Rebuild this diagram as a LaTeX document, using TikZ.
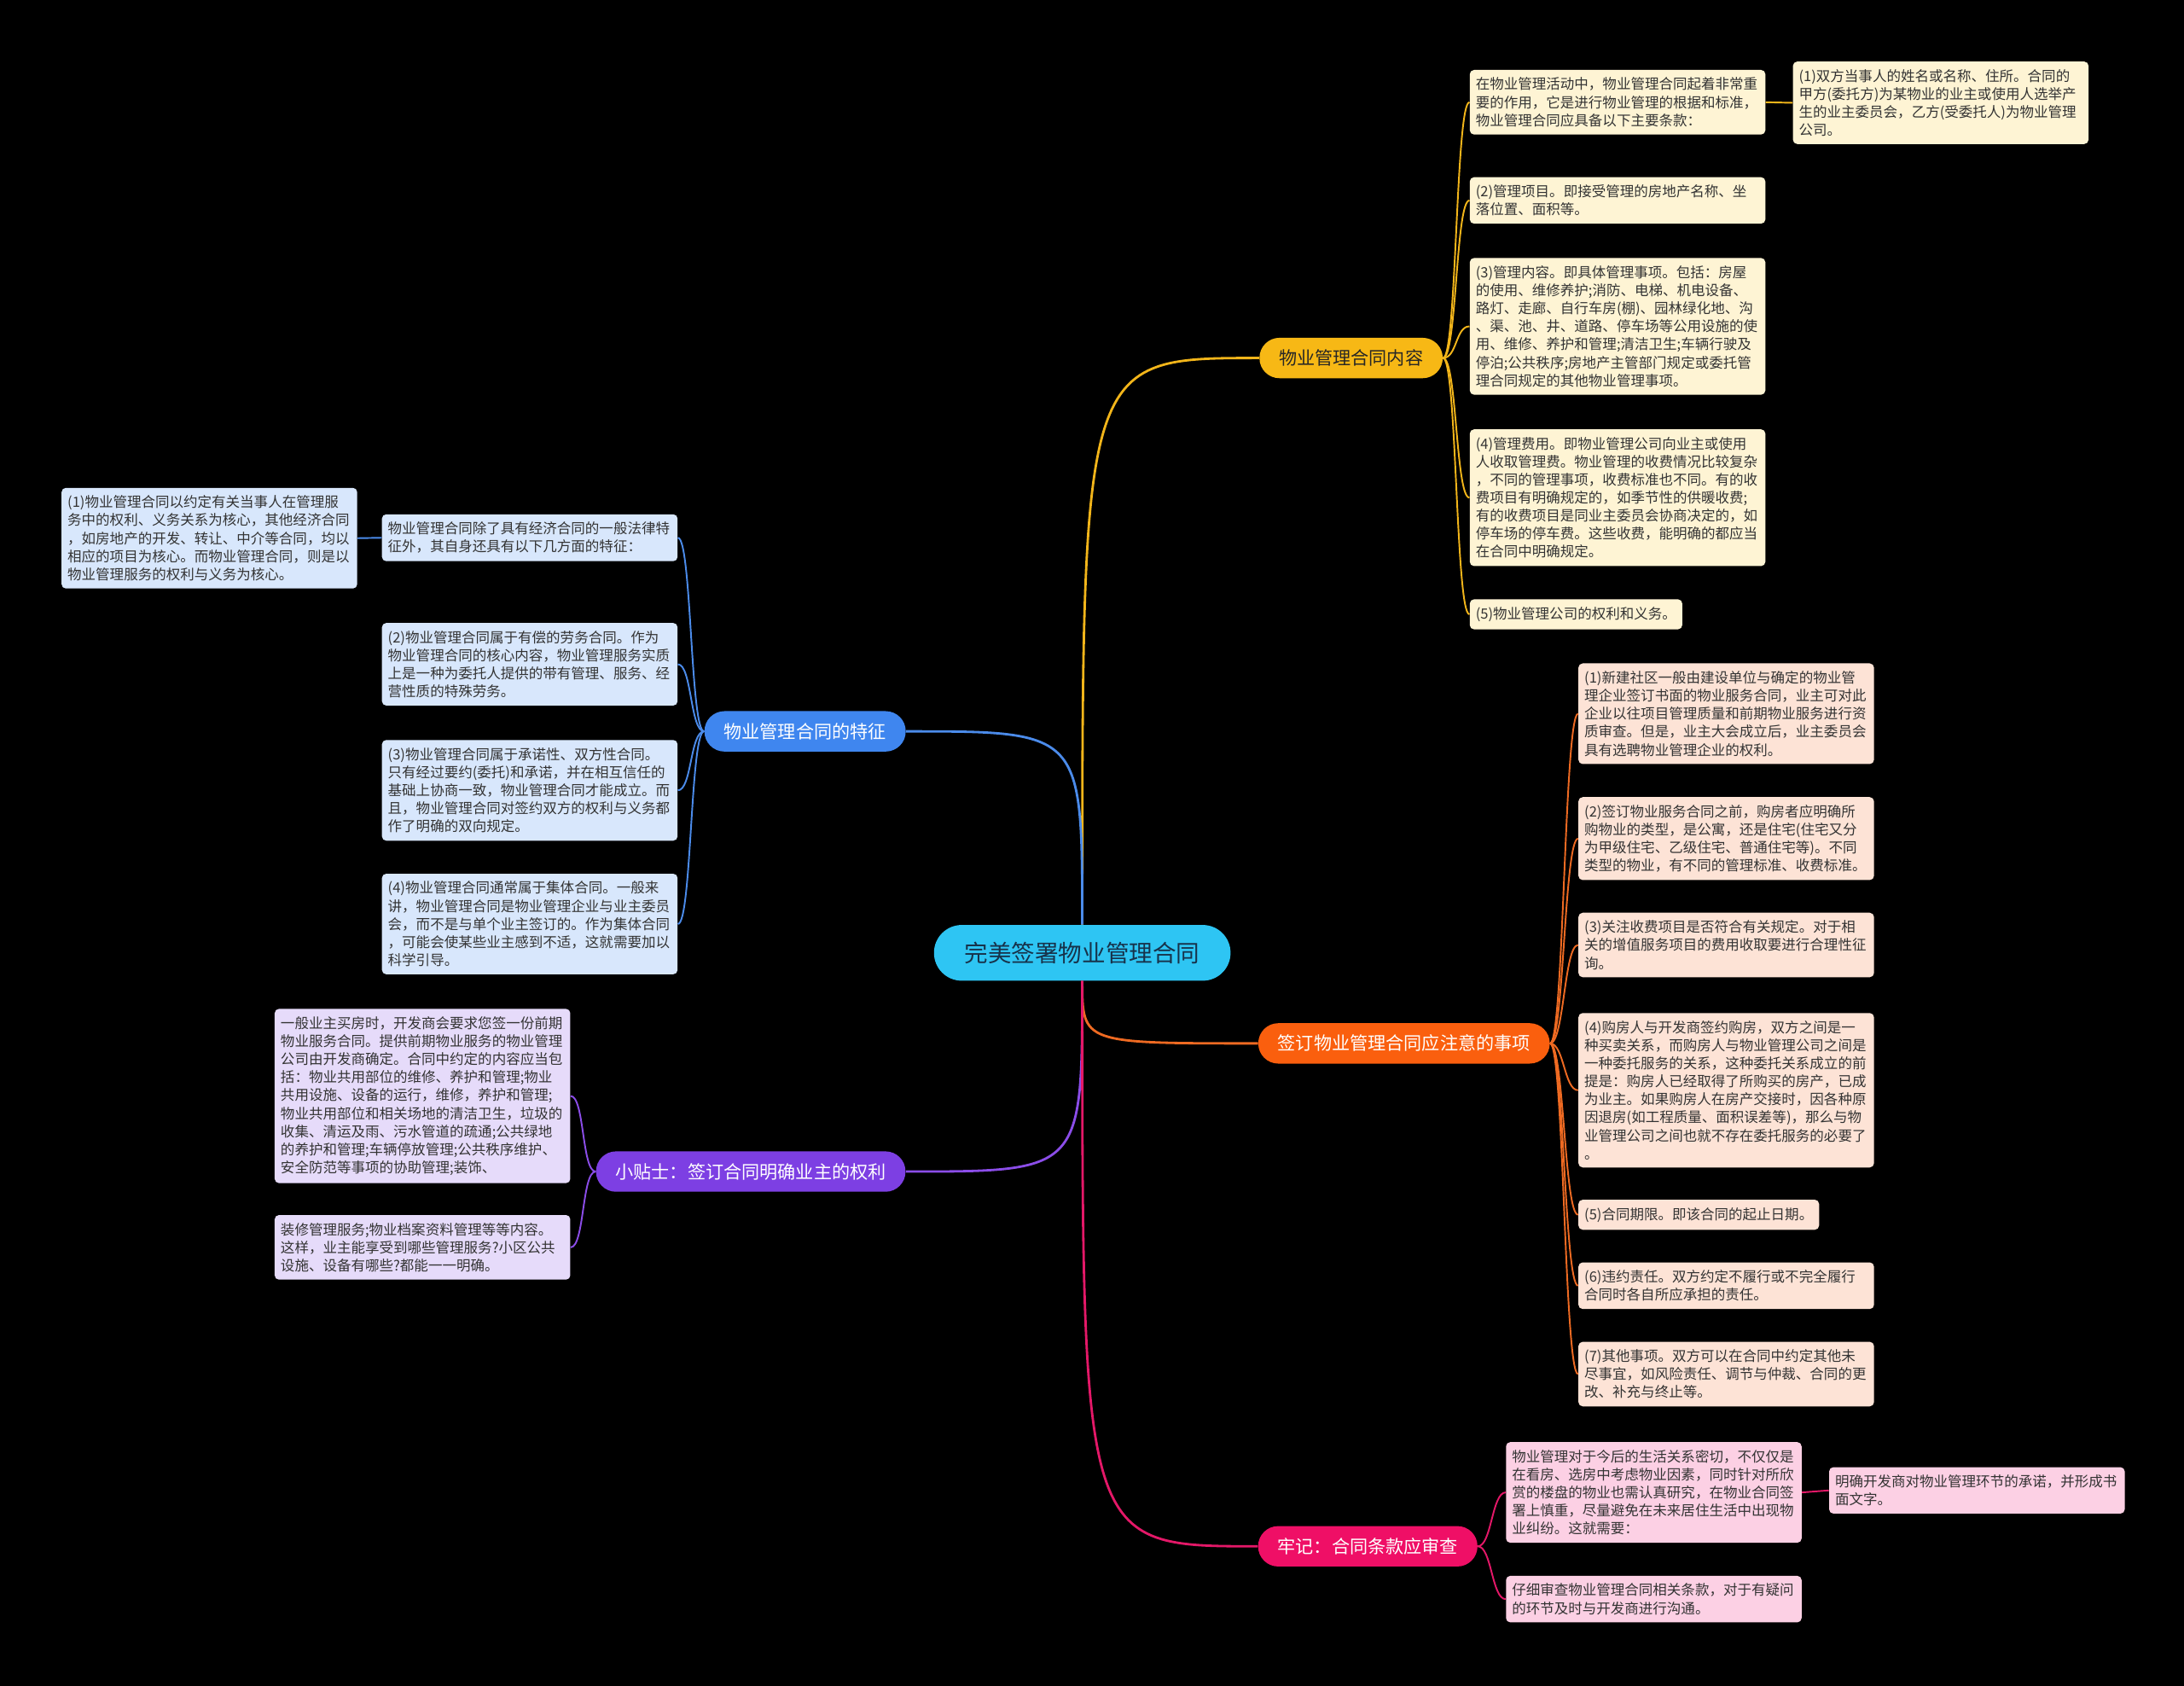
\documentclass[tikz,border=0pt]{standalone}
\usepackage{fontspec}
\setmainfont{Noto Sans CJK SC}
\usepackage{tikz}

\begin{document}
\begin{tikzpicture}[x=0.03265cm,y=-0.03265cm,
  leaf/.style={anchor=north west,rounded corners=0.1cm,inner xsep=0.14cm,inner ysep=0.18cm,text width=6.65cm,align=left,text=leafText,font=\fontsize{9.4}{12.03}\selectfont},
  leafone/.style={anchor=north west,rounded corners=0.1cm,inner xsep=0.14cm,inner ysep=0.18cm,text=leafText,font=\fontsize{9.4}{12.03}\selectfont},
  topic/.style={rounded corners=0.47cm,minimum height=0.947cm,inner xsep=0.457cm,inner ysep=0pt,text=white,font=\fontsize{12.03}{14}\selectfont},
  link/.style={line width=1.6pt},
  sublink/.style={line width=1.1pt}]
\definecolor{rootFill}{HTML}{2EC5F3}
\definecolor{rootText}{HTML}{17324A}
\definecolor{leafText}{HTML}{333333}
\definecolor{cttFill}{HTML}{F7B815}
\definecolor{cttLeaf}{HTML}{FEF4D4}
\definecolor{cttLine}{HTML}{F2B51A}
\definecolor{featFill}{HTML}{3F86EF}
\definecolor{featLeaf}{HTML}{D8E7FC}
\definecolor{featLine}{HTML}{4B8BEA}
\definecolor{tipFill}{HTML}{7D3FE3}
\definecolor{tipLeaf}{HTML}{E6DBFA}
\definecolor{tipLine}{HTML}{8B4DE8}
\definecolor{noteFill}{HTML}{FA5F0E}
\definecolor{noteLeaf}{HTML}{FDE3D6}
\definecolor{noteLine}{HTML}{EE6A22}
\definecolor{chkFill}{HTML}{EF0F66}
\definecolor{chkLeaf}{HTML}{FCD0E4}
\definecolor{chkLine}{HTML}{E41868}
\fill[black] (0,0) rectangle (1568,1210);
\useasboundingbox (0,0) rectangle (1568,1210);

% centre and main topics
\node[rounded corners=0.65cm,minimum height=1.306cm,inner xsep=0.717cm,fill=rootFill,text=rootText,font=\fontsize{15.7}{18}\selectfont] (root) at (777,684) {完美签署物业管理合同};
\node[topic,fill=cttFill,text=black!85] (ctt) at (970,257) {物业管理合同内容};
\node[topic,fill=featFill] (feat) at (578,525) {物业管理合同的特征};
\node[topic,fill=tipFill] (tip) at (539,841) {小贴士：签订合同明确业主的权利};
\node[topic,fill=noteFill] (note) at (1008,749) {签订物业管理合同应注意的事项};
\node[topic,fill=chkFill] (chk) at (982,1110) {牢记：合同条款应审查};

\draw[link,cttLine] (root.north) .. controls (root.north |- ctt.west) .. (ctt.west);
\draw[link,featLine] (root.north) .. controls (root.north |- feat.east) .. (feat.east);
\draw[link,tipLine] (root.south) .. controls (root.south |- tip.east) .. (tip.east);
\draw[link,noteLine] (root.south) .. controls (root.south |- note.west) .. (note.west);
\draw[link,chkLine] (root.south) .. controls (root.south |- chk.west) .. (chk.west);

% contents
\node[leaf,fill=cttLeaf] (l1) at (1055,50) {在物业管理活动中，物业管理合同起着非常重\\要的作用，它是进行物业管理的根据和标准，\\物业管理合同应具备以下主要条款：};
\node[leaf,fill=cttLeaf] (l1c) at (1287,44) {(1)双方当事人的姓名或名称、住所。合同的\\甲方(委托方)为某物业的业主或使用人选举产\\生的业主委员会，乙方(受委托人)为物业管理\\公司。};
\node[leaf,fill=cttLeaf] (l2) at (1055,127) {(2)管理项目。即接受管理的房地产名称、坐\\落位置、面积等。};
\node[leaf,fill=cttLeaf] (l3) at (1055,185) {(3)管理内容。即具体管理事项。包括：房屋\\的使用、维修养护;消防、电梯、机电设备、\\路灯、走廊、自行车房(棚)、园林绿化地、沟\\、渠、池、井、道路、停车场等公用设施的使\\用、维修、养护和管理;清洁卫生;车辆行驶及\\停泊;公共秩序;房地产主管部门规定或委托管\\理合同规定的其他物业管理事项。};
\node[leaf,fill=cttLeaf] (l4) at (1055,308) {(4)管理费用。即物业管理公司向业主或使用\\人收取管理费。物业管理的收费情况比较复杂\\，不同的管理事项，收费标准也不同。有的收\\费项目有明确规定的，如季节性的供暖收费;\\有的收费项目是同业主委员会协商决定的，如\\停车场的停车费。这些收费，能明确的都应当\\在合同中明确规定。};
\node[leafone,fill=cttLeaf] (l5) at (1055,430) {(5)物业管理公司的权利和义务。};
\foreach \c in {l1,l2,l3,l4,l5}
  \draw[sublink,cttLine] (ctt.east) .. controls +(10,0) and +(-10,0) .. (\c.west);
\draw[sublink,cttLine] (l1.east) -- (l1c.west);

% features
\node[leaf,fill=featLeaf] (b1) at (274,369) {物业管理合同除了具有经济合同的一般法律特\\征外，其自身还具有以下几方面的特征：};
\node[leaf,fill=featLeaf] (b1c) at (44,350) {(1)物业管理合同以约定有关当事人在管理服\\务中的权利、义务关系为核心，其他经济合同\\，如房地产的开发、转让、中介等合同，均以\\相应的项目为核心。而物业管理合同，则是以\\物业管理服务的权利与义务为核心。};
\node[leaf,fill=featLeaf] (b2) at (274,447) {(2)物业管理合同属于有偿的劳务合同。作为\\物业管理合同的核心内容，物业管理服务实质\\上是一种为委托人提供的带有管理、服务、经\\营性质的特殊劳务。};
\node[leaf,fill=featLeaf] (b3) at (274,531) {(3)物业管理合同属于承诺性、双方性合同。\\只有经过要约(委托)和承诺，并在相互信任的\\基础上协商一致，物业管理合同才能成立。而\\且，物业管理合同对签约双方的权利与义务都\\作了明确的双向规定。};
\node[leaf,fill=featLeaf] (b4) at (274,627) {(4)物业管理合同通常属于集体合同。一般来\\讲，物业管理合同是物业管理企业与业主委员\\会，而不是与单个业主签订的。作为集体合同\\，可能会使某些业主感到不适，这就需要加以\\科学引导。};
\foreach \c in {b1,b2,b3,b4}
  \draw[sublink,featLine] (feat.west) .. controls +(-10,0) and +(10,0) .. (\c.east);
\draw[sublink,featLine] (b1.west) -- (b1c.east);

% tips
\node[leaf,fill=tipLeaf] (p1) at (197,724) {一般业主买房时，开发商会要求您签一份前期\\物业服务合同。提供前期物业服务的物业管理\\公司由开发商确定。合同中约定的内容应当包\\括：物业共用部位的维修、养护和管理;物业\\共用设施、设备的运行，维修，养护和管理;\\物业共用部位和相关场地的清洁卫生，垃圾的\\收集、清运及雨、污水管道的疏通;公共绿地\\的养护和管理;车辆停放管理;公共秩序维护、\\安全防范等事项的协助管理;装饰、};
\node[leaf,fill=tipLeaf] (p2) at (197,872) {装修管理服务;物业档案资料管理等等内容。\\这样，业主能享受到哪些管理服务?小区公共\\设施、设备有哪些?都能一一明确。};
\foreach \c in {p1,p2}
  \draw[sublink,tipLine] (tip.west) .. controls +(-10,0) and +(10,0) .. (\c.east);

% notes
\node[leaf,fill=noteLeaf] (o1) at (1133,476) {(1)新建社区一般由建设单位与确定的物业管\\理企业签订书面的物业服务合同，业主可对此\\企业以往项目管理质量和前期物业服务进行资\\质审查。但是，业主大会成立后，业主委员会\\具有选聘物业管理企业的权利。};
\node[leaf,fill=noteLeaf] (o2) at (1133,572) {(2)签订物业服务合同之前，购房者应明确所\\购物业的类型，是公寓，还是住宅(住宅又分\\为甲级住宅、乙级住宅、普通住宅等)。不同\\类型的物业，有不同的管理标准、收费标准。};
\node[leaf,fill=noteLeaf] (o3) at (1133,655) {(3)关注收费项目是否符合有关规定。对于相\\关的增值服务项目的费用收取要进行合理性征\\询。};
\node[leaf,fill=noteLeaf] (o4) at (1133,727) {(4)购房人与开发商签约购房，双方之间是一\\种买卖关系，而购房人与物业管理公司之间是\\一种委托服务的关系，这种委托关系成立的前\\提是：购房人已经取得了所购买的房产，已成\\为业主。如果购房人在房产交接时，因各种原\\因退房(如工程质量、面积误差等)，那么与物\\业管理公司之间也就不存在委托服务的必要了\\。};
\node[leafone,fill=noteLeaf] (o5) at (1133,861) {(5)合同期限。即该合同的起止日期。};
\node[leaf,fill=noteLeaf] (o6) at (1133,906) {(6)违约责任。双方约定不履行或不完全履行\\合同时各自所应承担的责任。};
\node[leaf,fill=noteLeaf] (o7) at (1133,963) {(7)其他事项。双方可以在合同中约定其他未\\尽事宜，如风险责任、调节与仲裁、合同的更\\改、补充与终止等。};
\foreach \c in {o1,o2,o3,o4,o5,o6,o7}
  \draw[sublink,noteLine] (note.east) .. controls +(10,0) and +(-10,0) .. (\c.west);

% check
\node[leaf,fill=chkLeaf] (r1) at (1081,1035) {物业管理对于今后的生活关系密切，不仅仅是\\在看房、选房中考虑物业因素，同时针对所欣\\赏的楼盘的物业也需认真研究，在物业合同签\\署上慎重，尽量避免在未来居住生活中出现物\\业纠纷。这就需要：};
\node[leaf,fill=chkLeaf] (r1c) at (1313,1053) {明确开发商对物业管理环节的承诺，并形成书\\面文字。};
\node[leaf,fill=chkLeaf] (r2) at (1081,1131) {仔细审查物业管理合同相关条款，对于有疑问\\的环节及时与开发商进行沟通。};
\foreach \c in {r1,r2}
  \draw[sublink,chkLine] (chk.east) .. controls +(10,0) and +(-10,0) .. (\c.west);
\draw[sublink,chkLine] (r1.east) -- (r1c.west);
\end{tikzpicture}
\end{document}
